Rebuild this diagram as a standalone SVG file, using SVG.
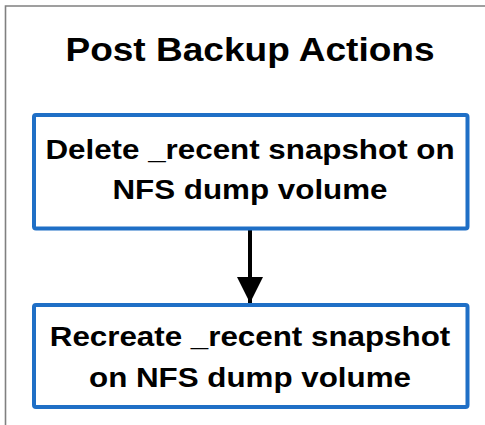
<svg xmlns="http://www.w3.org/2000/svg" width="485" height="425" viewBox="0 0 485 425">
  <defs>
    <style>
      .frame { fill: none; stroke: #808080; stroke-width: 1.6; }
      .box { fill: #ffffff; stroke: #1f6fc6; stroke-width: 4; }
      .title { font-family: "Liberation Sans", Arial, sans-serif; font-weight: bold; font-size: 34px; fill: #000000; text-anchor: middle; }
      .label { font-family: "Liberation Sans", Arial, sans-serif; font-weight: bold; font-size: 28.5px; fill: #000000; text-anchor: middle; }
      .edge { stroke: #000000; stroke-width: 4; fill: none; }
    </style>
    <marker id="arrowhead" markerUnits="userSpaceOnUse" markerWidth="26" markerHeight="26" viewBox="0 0 26 26" refX="26" refY="13" orient="auto">
      <path d="M0,0 L26,13 L0,26 Z" fill="#000000"/>
    </marker>
  </defs>

  <rect width="485" height="425" fill="#ffffff"/>

  <!-- outer frame, open towards the right and bottom edges -->
  <path class="frame" d="M5.5,425 V6 H485"/>

  <g id="title">
    <text class="title" transform="translate(250,61) scale(1.09,1)" x="0" y="0">Post Backup Actions</text>
  </g>

  <g id="connectors">
    <line class="edge" x1="250" y1="229" x2="250" y2="303" marker-end="url(#arrowhead)"/>
  </g>

  <g id="delete-snapshot">
    <rect class="box" x="34" y="115" width="433.5" height="113.5" rx="2"/>
    <g transform="translate(250,0) scale(1.1,1)">
      <text class="label" x="0" y="159">Delete _recent snapshot on</text>
      <text class="label" x="0" y="199">NFS dump volume</text>
    </g>
  </g>

  <g id="recreate-snapshot">
    <rect class="box" x="34" y="305" width="433.5" height="102" rx="2"/>
    <g transform="translate(250,0) scale(1.1,1)">
      <text class="label" x="0" y="346">Recreate _recent snapshot</text>
      <text class="label" x="0" y="387">on NFS dump volume</text>
    </g>
  </g>
</svg>
